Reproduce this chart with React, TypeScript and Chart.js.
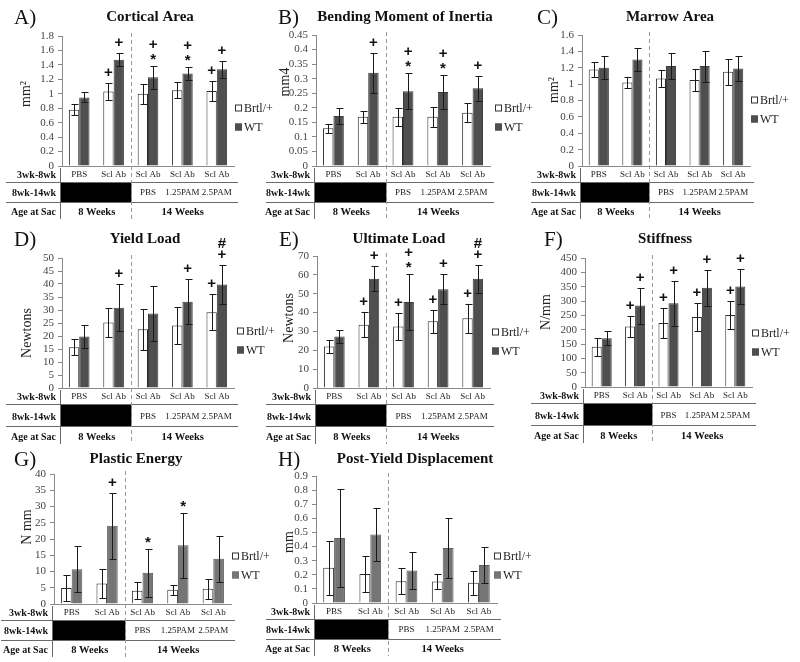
import React, { useEffect, useRef } from "react";
import { Chart, registerables } from "chart.js";
Chart.register(...registerables);

const FONT = '"Liberation Serif", "Times New Roman", serif';
const MARK_FONT = 'bold 15px "Liberation Sans", Arial, sans-serif';

// ---- shared table / legend text ----
const treatment3to8wk = ["PBS", "Scl Ab", "Scl Ab", "Scl Ab", "Scl Ab"];
const treatment8to14wk = ["", "", "PBS", "1.25PAM", "2.5PAM"];
const ageAtSac = ["8 Weeks", "14 Weeks"];
const rowLabels = ["3wk-8wk", "8wk-14wk", "Age at Sac"];
const seriesNames = ["Brtl/+", "WT"];

// ---- A) Cortical Area ----
const corticalBrtl = [0.78, 1.03, 1.0, 1.05, 1.04];
const corticalBrtlErr = [0.08, 0.12, 0.14, 0.11, 0.14];
const corticalWT = [0.95, 1.47, 1.23, 1.28, 1.34];
const corticalWTErr = [0.07, 0.09, 0.16, 0.09, 0.12];
const corticalBrtlMarks = ["", "+", "", "", "+"];
const corticalWTMarks = ["", "+", "+*", "+*", "+"];

// ---- B) Bending Moment of Inertia ----
const bendingBrtl = [0.13, 0.169, 0.169, 0.169, 0.183];
const bendingBrtlErr = [0.015, 0.02, 0.031, 0.035, 0.033];
const bendingWT = [0.172, 0.32, 0.257, 0.254, 0.267];
const bendingWTErr = [0.027, 0.068, 0.062, 0.057, 0.042];
const bendingBrtlMarks = ["", "", "", "", ""];
const bendingWTMarks = ["", "+", "+*", "+*", "+"];

// ---- C) Marrow Area ----
const marrowBrtl = [1.18, 1.02, 1.07, 1.05, 1.15];
const marrowBrtlErr = [0.09, 0.07, 0.1, 0.14, 0.16];
const marrowWT = [1.2, 1.3, 1.22, 1.22, 1.19];
const marrowWTErr = [0.14, 0.14, 0.16, 0.19, 0.155];
const marrowBrtlMarks = ["", "", "", "", ""];
const marrowWTMarks = ["", "", "", "", ""];

// ---- D) Yield Load ----
const yieldBrtl = [15.7, 25.2, 22.6, 24.0, 29.1];
const yieldBrtlErr = [3.1, 5.6, 7.8, 7.1, 6.9];
const yieldWT = [19.8, 30.9, 28.7, 33.2, 39.8];
const yieldWTErr = [4.4, 9.0, 10.6, 8.6, 7.4];
const yieldBrtlMarks = ["", "", "", "", "+"];
const yieldWTMarks = ["", "+", "", "+", "#+"];

// ---- E) Ultimate Load ----
const ultimateBrtl = [22.0, 33.5, 32.6, 35.4, 37.0];
const ultimateBrtlErr = [3.6, 6.6, 7.1, 6.0, 7.6];
const ultimateWT = [27.3, 57.9, 45.6, 52.4, 57.9];
const ultimateWTErr = [3.2, 6.6, 15.0, 7.9, 7.3];
const ultimateBrtlMarks = ["", "+", "+", "+", "+"];
const ultimateWTMarks = ["", "+", "+*", "+", "#+"];

// ---- F) Stiffness ----
const stiffBrtl = [140, 211, 223, 244, 251];
const stiffBrtlErr = [32, 35, 52, 48, 49];
const stiffWT = [170, 284, 292, 346, 351];
const stiffWTErr = [25, 63, 78, 62, 60];
const stiffBrtlMarks = ["", "+", "+", "+", "+"];
const stiffWTMarks = ["", "+", "+", "+", "+"];

// ---- G) Plastic Energy ----
const plasticBrtl = [4.9, 6.3, 4.1, 4.4, 4.7];
const plasticBrtlErr = [4.0, 4.6, 2.7, 1.6, 3.1];
const plasticWT = [10.7, 24.1, 9.6, 18.1, 13.9];
const plasticWTErr = [7.0, 10.2, 7.3, 10.0, 7.0];
const plasticBrtlMarks = ["", "", "", "", ""];
const plasticWTMarks = ["", "+", "*", "*", ""];

// ---- H) Post-Yield Displacement ----
const pydBrtl = [0.25, 0.205, 0.155, 0.152, 0.143];
const pydBrtlErr = [0.19, 0.127, 0.09, 0.053, 0.085];
const pydWT = [0.46, 0.485, 0.23, 0.39, 0.27];
const pydWTErr = [0.35, 0.185, 0.13, 0.21, 0.13];
const pydBrtlMarks = ["", "", "", "", ""];
const pydWTMarks = ["", "", "", "", ""];

type PanelCfg = {
  key: string;
  letter: string;
  title: string;
  yTitle: string;
  brtl: number[];
  brtlErr: number[];
  wt: number[];
  wtErr: number[];
  brtlMarks: string[];
  wtMarks: string[];
  max: number;
  step: number;
  wtColor: string;
  box: [number, number, number, number]; // x, y, w, h
  area: [number, number, number, number]; // left, top, right, bottom (page coords)
  letterX: number;
  titleX: number;
  headY: number;
  yTitleX: number;
  yTitleY: number;
  legendX: number;
  legendY: number;
  rowGap: number;
};

const DARK = "#4f4f4f";
const MID = "#757575";

const panels: PanelCfg[] = [
  {
    key: "A", letter: "A)", title: "Cortical Area", yTitle: "mm\u00B2",
    brtl: corticalBrtl, brtlErr: corticalBrtlErr, wt: corticalWT, wtErr: corticalWTErr,
    brtlMarks: corticalBrtlMarks, wtMarks: corticalWTMarks, max: 1.8, step: 0.2, wtColor: DARK,
    box: [0, 0, 280, 222], area: [62, 36, 234, 166],
    letterX: 14, titleX: 150, headY: 17, yTitleX: 26, yTitleY: 94, legendX: 235, legendY: 108, rowGap: 0,
  },
  {
    key: "B", letter: "B)", title: "Bending Moment of Inertia", yTitle: "mm4",
    brtl: bendingBrtl, brtlErr: bendingBrtlErr, wt: bendingWT, wtErr: bendingWTErr,
    brtlMarks: bendingBrtlMarks, wtMarks: bendingWTMarks, max: 0.45, step: 0.05, wtColor: DARK,
    box: [265, 0, 280, 222], area: [316, 35, 490, 166],
    letterX: 278, titleX: 405, headY: 17, yTitleX: 285, yTitleY: 82, legendX: 495, legendY: 108, rowGap: 0,
  },
  {
    key: "C", letter: "C)", title: "Marrow Area", yTitle: "mm\u00B2",
    brtl: marrowBrtl, brtlErr: marrowBrtlErr, wt: marrowWT, wtErr: marrowWTErr,
    brtlMarks: marrowBrtlMarks, wtMarks: marrowWTMarks, max: 1.6, step: 0.2, wtColor: DARK,
    box: [530, 0, 270, 222], area: [582, 35, 750, 166],
    letterX: 537, titleX: 670, headY: 17, yTitleX: 554, yTitleY: 90, legendX: 751, legendY: 100, rowGap: 0,
  },
  {
    key: "D", letter: "D)", title: "Yield Load", yTitle: "Newtons",
    brtl: yieldBrtl, brtlErr: yieldBrtlErr, wt: yieldWT, wtErr: yieldWTErr,
    brtlMarks: yieldBrtlMarks, wtMarks: yieldWTMarks, max: 50, step: 5, wtColor: DARK,
    box: [0, 222, 280, 223], area: [62, 258, 234, 388],
    letterX: 14, titleX: 145, headY: 239, yTitleX: 27, yTitleY: 333, legendX: 237, legendY: 331, rowGap: 2,
  },
  {
    key: "E", letter: "E)", title: "Ultimate Load", yTitle: "Newtons",
    brtl: ultimateBrtl, brtlErr: ultimateBrtlErr, wt: ultimateWT, wtErr: ultimateWTErr,
    brtlMarks: ultimateBrtlMarks, wtMarks: ultimateWTMarks, max: 70, step: 10, wtColor: DARK,
    box: [265, 222, 280, 223], area: [317, 256, 490, 388],
    letterX: 279, titleX: 399, headY: 239, yTitleX: 289, yTitleY: 318, legendX: 492, legendY: 332, rowGap: 2,
  },
  {
    key: "F", letter: "F)", title: "Stiffness", yTitle: "N/mm",
    brtl: stiffBrtl, brtlErr: stiffBrtlErr, wt: stiffWT, wtErr: stiffWTErr,
    brtlMarks: stiffBrtlMarks, wtMarks: stiffWTMarks, max: 450, step: 50, wtColor: DARK,
    box: [530, 222, 270, 223], area: [585, 258, 752, 387],
    letterX: 544, titleX: 665, headY: 239, yTitleX: 546, yTitleY: 312, legendX: 752, legendY: 333, rowGap: 2,
  },
  {
    key: "G", letter: "G)", title: "Plastic Energy", yTitle: "N mm",
    brtl: plasticBrtl, brtlErr: plasticBrtlErr, wt: plasticWT, wtErr: plasticWTErr,
    brtlMarks: plasticBrtlMarks, wtMarks: plasticWTMarks, max: 40, step: 5, wtColor: MID,
    box: [0, 444, 280, 218], area: [54, 474, 231, 604],
    letterX: 14, titleX: 136, headY: 459, yTitleX: 27, yTitleY: 527, legendX: 232, legendY: 556, rowGap: 0,
  },
  {
    key: "H", letter: "H)", title: "Post-Yield Displacement", yTitle: "mm",
    brtl: pydBrtl, brtlErr: pydBrtlErr, wt: pydWT, wtErr: pydWTErr,
    brtlMarks: pydBrtlMarks, wtMarks: pydWTMarks, max: 0.9, step: 0.1, wtColor: MID,
    box: [265, 444, 280, 218], area: [316, 476, 497, 603],
    letterX: 278, titleX: 415, headY: 459, yTitleX: 289, yTitleY: 542, legendX: 494, legendY: 556, rowGap: 0,
  },
];

const fmt = (v: number) => String(parseFloat(Number(v).toFixed(3)));

function overlayPlugin(p: PanelCfg) {
  const ox = p.box[0];
  const oy = p.box[1];
  return {
    id: "overlay" + p.key,
    afterDatasetsDraw(chart: any) {
      const ctx = chart.ctx;
      const ys = chart.scales.y;
      const sets = [
        { vals: p.brtl, errs: p.brtlErr, marks: p.brtlMarks },
        { vals: p.wt, errs: p.wtErr, marks: p.wtMarks },
      ];
      ctx.save();
      sets.forEach((s, d) => {
        const meta = chart.getDatasetMeta(d);
        meta.data.forEach((bar: any, i: number) => {
          const x = Math.round(bar.x) + 0.5;
          const yt = Math.round(ys.getPixelForValue(s.vals[i] + s.errs[i])) + 0.5;
          const yb = Math.round(ys.getPixelForValue(Math.max(0, s.vals[i] - s.errs[i]))) + 0.5;
          ctx.strokeStyle = "#1a1a1a";
          ctx.lineWidth = 1;
          ctx.beginPath();
          ctx.moveTo(x, yt);
          ctx.lineTo(x, yb);
          ctx.moveTo(x - 3, yt);
          ctx.lineTo(x + 4, yt);
          ctx.moveTo(x - 3, yb);
          ctx.lineTo(x + 4, yb);
          ctx.stroke();
          const m = s.marks[i] || "";
          ctx.fillStyle = "#111";
          ctx.font = MARK_FONT;
          ctx.textAlign = "center";
          ctx.textBaseline = "middle";
          for (let k = 0; k < m.length; k++) {
            const ch = m[m.length - 1 - k];
            const y = yt - 11 - k * 11 + (ch === "*" ? 4 : 0);
            ctx.fillText(ch, bar.x, y);
          }
        });
      });
      ctx.restore();
    },
    afterDraw(chart: any) {
      const ctx = chart.ctx;
      const { left, right, top, bottom } = chart.chartArea;
      const xs = chart.scales.x;
      const dashX = Math.round((xs.getPixelForValue(1) + xs.getPixelForValue(2)) / 2) + 0.5;
      ctx.save();
      ctx.fillStyle = "#111";
      ctx.textBaseline = "middle";
      // panel letter
      ctx.font = `21px ${FONT}`;
      ctx.textAlign = "left";
      ctx.fillText(p.letter, p.letterX - ox, p.headY - oy + 1);
      // title
      ctx.font = `bold 15px ${FONT}`;
      ctx.textAlign = "center";
      ctx.fillText(p.title, p.titleX - ox, p.headY - oy);
      // y title
      ctx.save();
      ctx.translate(p.yTitleX - ox, p.yTitleY - oy);
      ctx.rotate(-Math.PI / 2);
      ctx.font = `14px ${FONT}`;
      ctx.fillStyle = "#222";
      ctx.fillText(p.yTitle, 0, 0);
      ctx.restore();
      // legend
      const lx = p.legendX - ox;
      const colors = ["#ffffff", p.wtColor];
      seriesNames.forEach((name, i) => {
        const cy = p.legendY - oy + i * 19;
        ctx.fillStyle = colors[i];
        ctx.fillRect(lx, cy - 3.5, 7, 7);
        ctx.strokeStyle = i === 0 ? "#333" : p.wtColor;
        ctx.lineWidth = 1;
        ctx.strokeRect(lx + 0.5, cy - 3, 6, 6);
        ctx.fillStyle = "#222";
        ctx.font = `12px ${FONT}`;
        ctx.textAlign = "left";
        ctx.fillText(name, lx + 9, cy + 1);
      });
      // table
      const g = p.rowGap;
      const r1 = bottom + 9;
      const l1 = Math.round(bottom + 16) + 0.5;
      const r2 = bottom + 27 + g;
      const l2 = Math.round(bottom + 36 + g) + 0.5;
      const r3 = bottom + 46 + g * 1.5;
      const vEnd = bottom + 53 + g * 1.5;
      const lineL = Math.max(1, left - 56);
      const axisX = Math.round(left) - 1.5;
      ctx.fillStyle = "#000";
      ctx.fillRect(axisX, l1, dashX - axisX, l2 - l1);
      ctx.strokeStyle = "#6a6a6a";
      ctx.lineWidth = 1;
      ctx.beginPath();
      ctx.moveTo(lineL, l1);
      ctx.lineTo(right + 4, l1);
      ctx.moveTo(lineL, l2);
      ctx.lineTo(right + 4, l2);
      ctx.moveTo(axisX, bottom + 2);
      ctx.lineTo(axisX, vEnd);
      ctx.stroke();
      ctx.save();
      ctx.setLineDash([4, 3]);
      ctx.strokeStyle = "#9a9a9a";
      ctx.beginPath();
      ctx.moveTo(dashX, top - 3);
      ctx.lineTo(dashX, vEnd);
      ctx.stroke();
      ctx.restore();
      // row labels
      ctx.fillStyle = "#111";
      ctx.font = `bold 10px ${FONT}`;
      ctx.textAlign = "right";
      [r1, r2, r3].forEach((y, i) => ctx.fillText(rowLabels[i], left - 6, y));
      // cells
      ctx.font = `9px ${FONT}`;
      ctx.textAlign = "center";
      ctx.fillStyle = "#222";
      treatment3to8wk.forEach((t, i) => ctx.fillText(t, xs.getPixelForValue(i), r1));
      treatment8to14wk.forEach((t, i) => {
        if (t) ctx.fillText(t, xs.getPixelForValue(i), r2);
      });
      ctx.font = `bold 10.5px ${FONT}`;
      ctx.fillStyle = "#111";
      ctx.fillText(ageAtSac[0], (left + dashX) / 2, r3);
      ctx.fillText(ageAtSac[1], (dashX + right) / 2, r3);
      ctx.restore();
    },
  };
}

function Panel({ p }: { p: PanelCfg }) {
  const ref = useRef<HTMLCanvasElement | null>(null);
  useEffect(() => {
    const canvas = ref.current;
    if (!canvas) return;
    const [bx, by, bw, bh] = p.box;
    const [l, t, r, b] = p.area;
    const axisColor = "#8a8a8a";
    const chart = new Chart(canvas, {
      type: "bar",
      data: {
        labels: treatment3to8wk,
        datasets: [
          {
            label: seriesNames[0],
            data: p.brtl,
            backgroundColor: "#ffffff",
            borderColor: "#2a2a2a",
            borderWidth: 1,
            categoryPercentage: 0.6,
            barPercentage: 1,
          },
          {
            label: seriesNames[1],
            data: p.wt,
            backgroundColor: p.wtColor,
            borderColor: p.wtColor === DARK ? "#3a3a3a" : "#5a5a5a",
            borderWidth: 1,
            categoryPercentage: 0.6,
            barPercentage: 1,
          },
        ],
      },
      options: {
        responsive: false,
        animation: false,
        events: [],
        layout: {
          padding: { left: 0, top: t - by, right: bx + bw - r, bottom: by + bh - b },
        },
        plugins: { legend: { display: false }, tooltip: { enabled: false } },
        scales: {
          x: {
            offset: true,
            grid: { display: false },
            ticks: { display: false },
            border: { color: axisColor },
            afterFit: (s: any) => {
              s.height = 0;
            },
          },
          y: {
            min: 0,
            max: p.max,
            ticks: {
              stepSize: p.step,
              autoSkip: false,
              maxTicksLimit: 30,
              padding: 4,
              color: "#444",
              font: { family: FONT, size: 11 },
              callback: (v: any) => fmt(v),
            },
            grid: { drawOnChartArea: false, tickLength: 4, color: axisColor },
            border: { color: axisColor },
            afterFit: (s: any) => {
              s.width = l - bx;
            },
          },
        },
      } as any,
      plugins: [overlayPlugin(p)],
    });
    return () => chart.destroy();
  }, [p]);
  return (
    <canvas
      ref={ref}
      width={p.box[2]}
      height={p.box[3]}
      style={{ position: "absolute", left: p.box[0], top: p.box[1], width: p.box[2], height: p.box[3] }}
    />
  );
}

export default function App() {
  return (
    <div style={{ position: "absolute", left: 0, top: 0, width: 800, height: 662, background: "#fff", overflow: "hidden" }}>
      {panels.map((p) => (
        <Panel key={p.key} p={p} />
      ))}
    </div>
  );
}
